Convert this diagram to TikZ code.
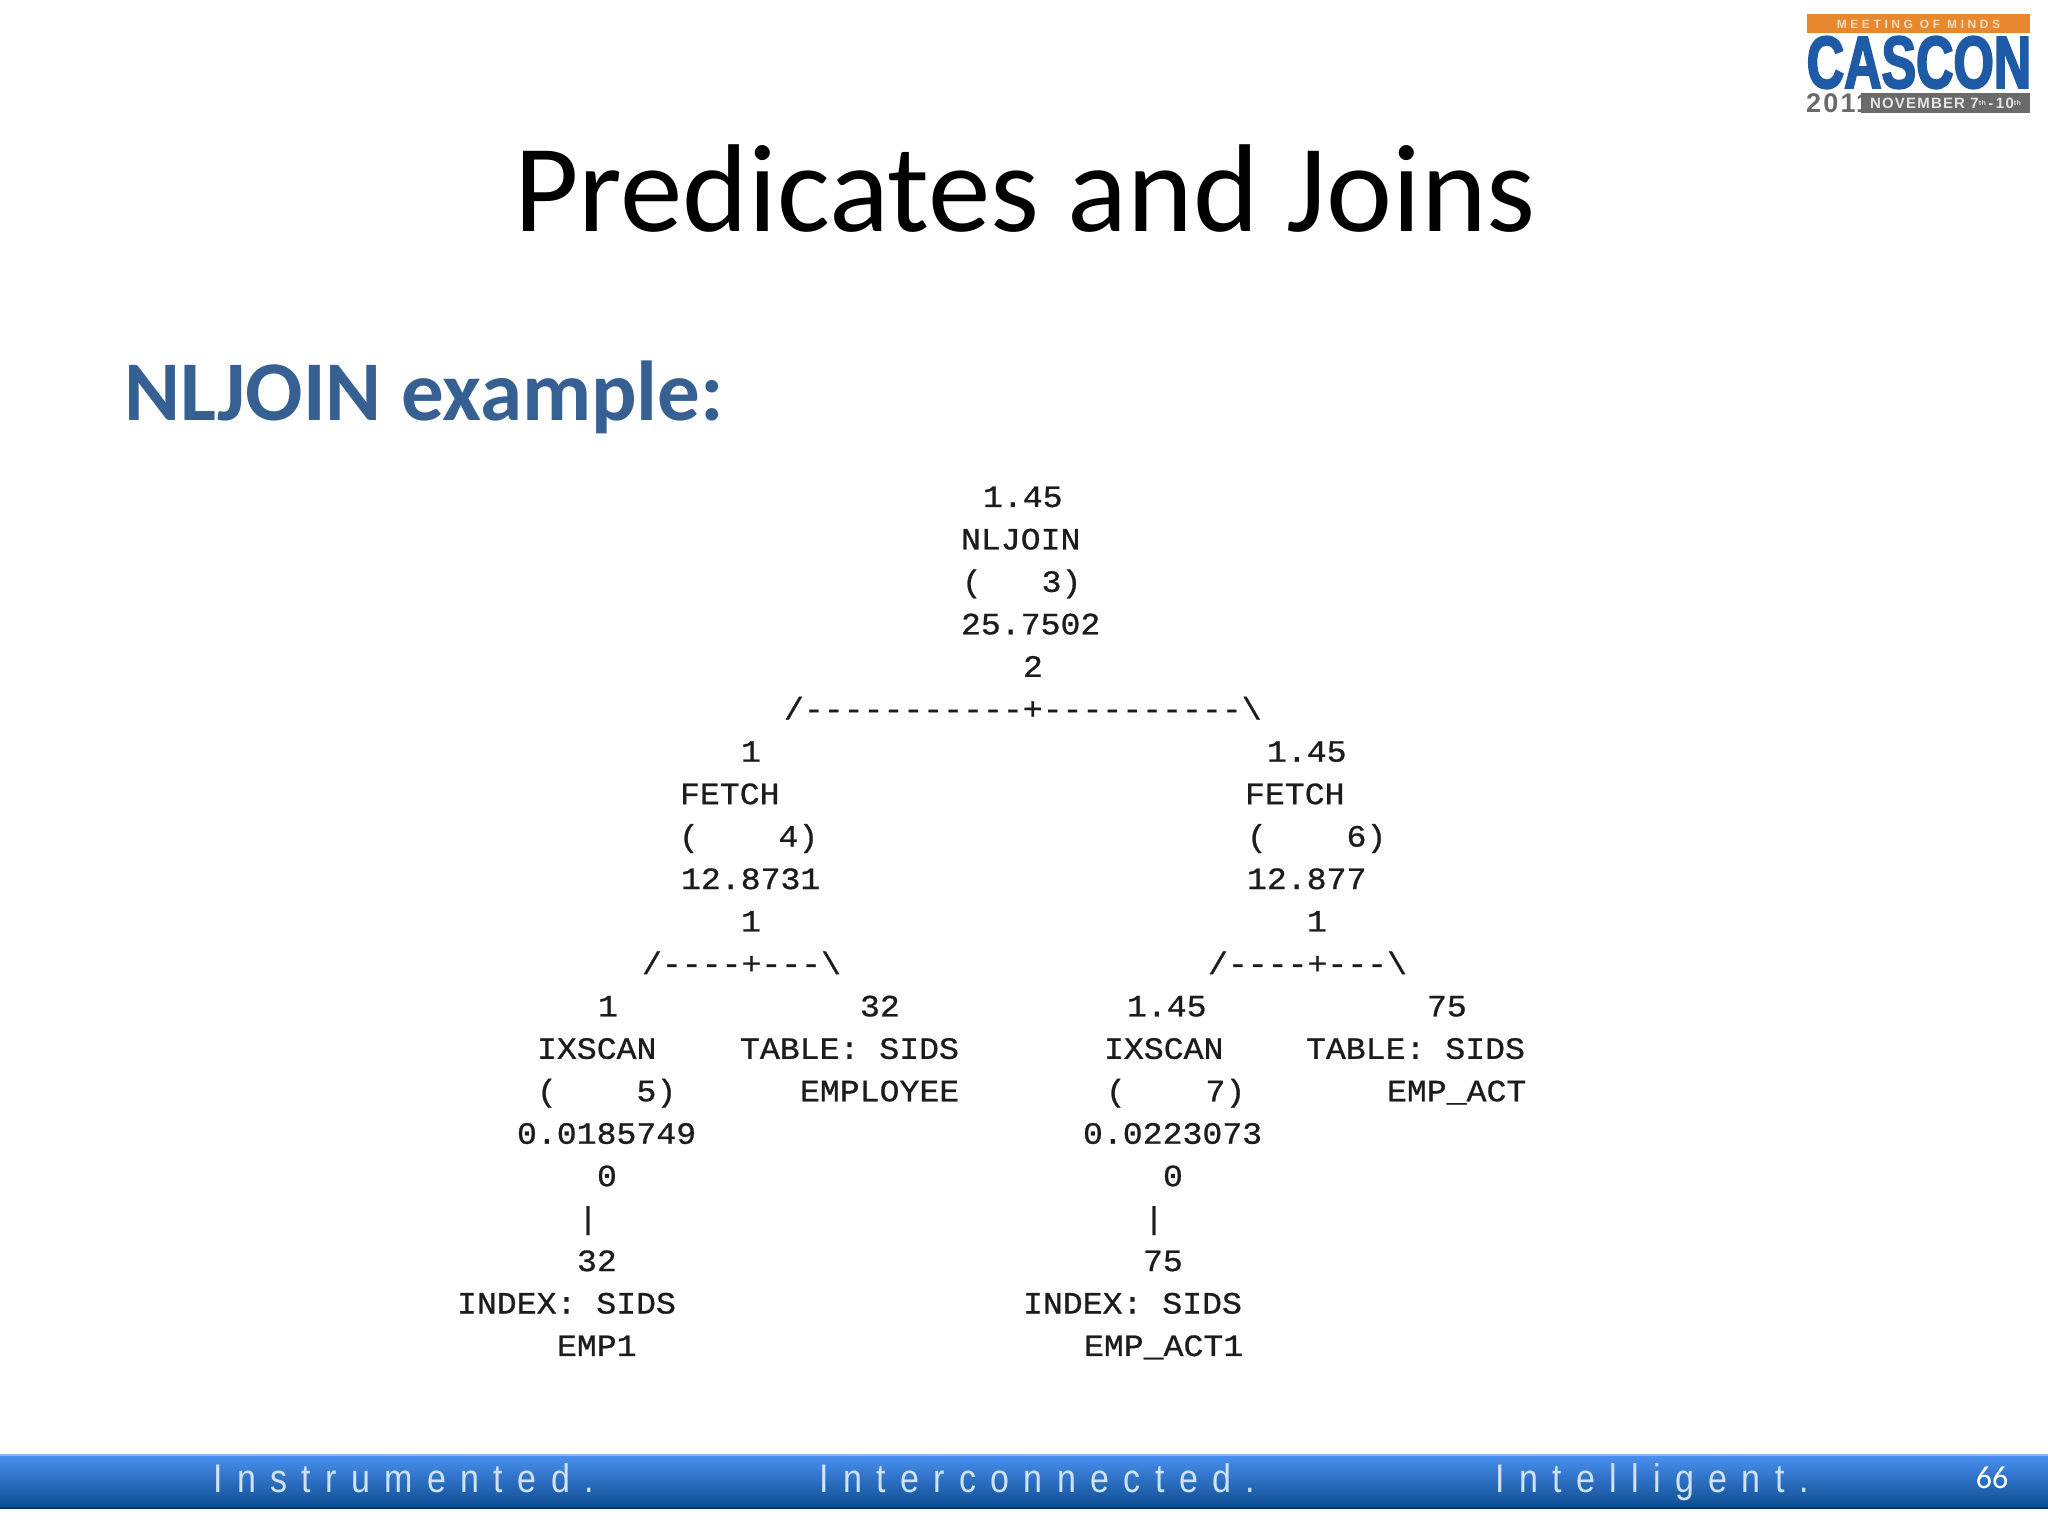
\documentclass[tikz,border=0pt]{standalone}
\usepackage{fontspec}
\setmainfont{Carlito}
\newfontfamily\dbfont[FakeStretch=1.07,FakeBold=0.8,Ligatures=ResetAll]{Liberation Mono}
\newfontfamily\barfont[LetterSpace=36,FakeStretch=0.85]{Liberation Sans}
\newfontfamily\logofont[FakeStretch=0.7,FakeBold=2.5]{Liberation Sans}
\newfontfamily\logosmall[LetterSpace=30]{Liberation Sans}
\newfontfamily\logotiny[LetterSpace=8]{Liberation Sans}
\definecolor{pagebg}{HTML}{FEFEFE}
\definecolor{heading}{HTML}{376092}
\definecolor{dbtext}{HTML}{1C1C1C}
\definecolor{bartext}{HTML}{CFE2F6}
\definecolor{bartop}{HTML}{4A90F0}
\definecolor{barmid}{HTML}{2A6CC4}
\definecolor{barbot}{HTML}{0C4C90}
\definecolor{barline}{HTML}{8FB8EC}
\definecolor{cascblue}{HTML}{1F5AA6}
\definecolor{cascorange}{HTML}{E8882E}
\definecolor{cascgrey}{HTML}{6A6A6A}
\definecolor{casclight}{HTML}{F3DCC0}
\tikzset{
  x=1pt,y=1pt,
  dbline/.style={anchor=base west,inner sep=0pt,outer sep=0pt,text=dbtext,font=\dbfont\fontsize{31}{31}\selectfont},
  bartxt/.style={anchor=base west,inner sep=0pt,text=bartext,font=\barfont\fontsize{40}{40}\selectfont},
}
\newcommand{\dbl}[4]{\node[dbline] (#1) at (#2,{1536-507-42.45*#3}) {#4};}
\begin{document}
\begin{tikzpicture}
\useasboundingbox (0,0) rectangle (2048,1536);
\fill[pagebg] (0,0) rectangle (2048,1536);
% title
\node[anchor=base,inner sep=0pt,text=black,font=\fontsize{125}{125}\selectfont] (title) at (1025,1536-232) {Predicates and Joins};
\node[anchor=base west,inner sep=0pt,text=heading,font=\bfseries\fontsize{85}{85}\selectfont] (sub) at (124,1536-421) {NLJOIN example:};
% plan tree
\dbl{a0}{983}{0}{1.45}
\dbl{a1}{961}{1}{NLJOIN}
\dbl{a2}{962}{2}{(~~~3)}
\dbl{a3}{961}{3}{25.7502}
\dbl{a4}{1023}{4}{2}
\dbl{j1}{784}{5}{/-----------+----------\textbackslash}
\dbl{b0}{741}{6}{1}
\dbl{b1}{680}{7}{FETCH}
\dbl{b2}{679}{8}{(~~~~4)}
\dbl{b3}{681}{9}{12.8731}
\dbl{b4}{741}{10}{1}
\dbl{j2}{642}{11}{/----+---\textbackslash}
\dbl{c0}{1267}{6}{1.45}
\dbl{c1}{1245}{7}{FETCH}
\dbl{c2}{1247}{8}{(~~~~6)}
\dbl{c3}{1247}{9}{12.877}
\dbl{c4}{1307}{10}{1}
\dbl{j3}{1208}{11}{/----+---\textbackslash}
\dbl{d0}{598}{12}{1}
\dbl{d1}{537}{13}{IXSCAN}
\dbl{d2}{537}{14}{(~~~~5)}
\dbl{d3}{517}{15}{0.0185749}
\dbl{d4}{597}{16}{0}
\dbl{d5}{578}{17}{|}
\dbl{d6}{577}{18}{32}
\dbl{d7}{457}{19}{INDEX:~SIDS}
\dbl{d8}{557}{20}{EMP1}
\dbl{e0}{860}{12}{32}
\dbl{e1}{740}{13}{TABLE:~SIDS}
\dbl{e2}{800}{14}{EMPLOYEE}
\dbl{f0}{1127}{12}{1.45}
\dbl{f1}{1104}{13}{IXSCAN}
\dbl{f2}{1106}{14}{(~~~~7)}
\dbl{f3}{1083}{15}{0.0223073}
\dbl{f4}{1163}{16}{0}
\dbl{f5}{1144}{17}{|}
\dbl{f6}{1143}{18}{75}
\dbl{f7}{1023}{19}{INDEX:~SIDS}
\dbl{f8}{1084}{20}{EMP\_ACT1}
\dbl{g0}{1427}{12}{75}
\dbl{g1}{1306}{13}{TABLE:~SIDS}
\dbl{g2}{1387}{14}{EMP\_ACT}
% footer bar
\path[top color=bartop,middle color=barmid,bottom color=barbot] (0,1536-1508) rectangle (2048,1536-1455);
\fill[barline] (0,1536-1456) rectangle (2048,1536-1454.5);
\fill[barbot!70!black] (0,1536-1509) rectangle (2048,1536-1507);
\node[bartxt] (w1) at (213,1536-1493) {Instrumented.};
\node[bartxt] (w2) at (819,1536-1493) {Interconnected.};
\node[bartxt] (w3) at (1495,1536-1493) {Intelligent.};
\node[anchor=base,inner sep=0pt,text=white,font=\fontsize{32}{32}\selectfont] (pg) at (1992,1536-1489) {66};
% logo
\fill[cascorange] (1807,1536-33) rectangle (2030,1536-14);
\node[inner sep=0pt,text=casclight,font=\logosmall\bfseries\fontsize{12}{12}\selectfont] (lg1) at (1918.5,1536-24) {MEETING OF MINDS};
\node[anchor=base,inner sep=0pt,text=cascblue,font=\logofont\bfseries\fontsize{74}{74}\selectfont] (lg2) at (1919,1536-88) {CASCON};
\node[anchor=base west,inner sep=0pt,text=cascgrey,font=\logotiny\bfseries\fontsize{27}{27}\selectfont] (lg3) at (1806,1536-113) {2011};
\fill[cascgrey] (1861,1536-113) rectangle (2030,1536-93);
\node[inner sep=0pt,text=pagebg!90!black,font=\logotiny\bfseries\fontsize{15}{15}\selectfont] (lg4) at (1945.5,1536-103) {NOVEMBER 7\raisebox{3pt}{\fontsize{7}{7}\selectfont th}\,-\,10\raisebox{3pt}{\fontsize{7}{7}\selectfont th}};
\end{tikzpicture}
\end{document}
